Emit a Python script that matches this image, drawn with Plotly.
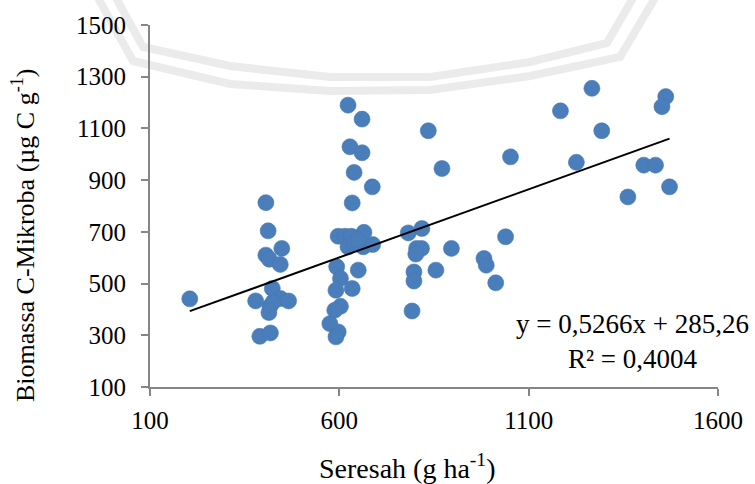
import plotly.graph_objects as go

# Seresah (litter) vs. microbial biomass carbon observations
seresah = [205, 406, 412, 448, 406, 415, 444, 423, 379, 417, 414, 445, 466, 425, 390, 418,
           623, 660, 628, 660, 639, 687, 634, 597, 615, 632, 665, 623, 640, 663, 688, 650,
           593, 650, 603, 634, 591, 603, 588, 575, 597, 591,
           835, 871, 782, 818, 804, 817, 802, 896, 797, 797, 855, 792,
           1052, 1039, 982, 988, 1013,
           1267, 1184, 1462, 1452, 1293, 1226, 1404, 1435, 1472, 1362]
biomassa = [441, 813, 704, 636, 610, 594, 574, 481, 433, 412, 388, 442, 433, 428, 296, 309,
            1190, 1136, 1029, 1006, 930, 874, 812, 683, 683, 683, 698, 642, 660, 642, 651, 668,
            565, 552, 520, 481, 474, 412, 397, 345, 313, 294,
            1091, 945, 696, 713, 636, 636, 614, 636, 545, 510, 552, 394,
            990, 681, 597, 571, 503,
            1255, 1168, 1223, 1184, 1091, 969, 958, 958, 874, 835]

# Linear trendline coefficients
slope = 0.5266
intercept = 285.26
r_squared = 0.4004

x_ticks = [100, 600, 1100, 1600]
y_ticks = [100, 300, 500, 700, 900, 1100, 1300, 1500]

FONT = "Liberation Serif, Times New Roman, serif"
AXIS_GREY = "#868686"
W, H = 755, 484
ML, MR, MT, MB = 150, 37, 25, 97
PW, PH = W - ML - MR, H - MT - MB


def to_paper(px, py):
    """Convert figure pixel position to paper coordinates."""
    return (px - ML) / PW, (H - MB - py) / PH


def path_from(points):
    pts = [to_paper(x, y) for x, y in points]
    return "M " + " L ".join(f"{x:.4f},{y:.4f}" for x, y in pts)


x_line = [min(seresah), max(seresah)]
y_line = [slope * v + intercept for v in x_line]

fig = go.Figure()
fig.add_trace(go.Scatter(
    x=seresah, y=biomassa, mode="markers",
    marker=dict(size=16, color="#4a7ebb", line=dict(width=0.6, color="#4577b2")),
    showlegend=False, hoverinfo="x+y",
))
fig.add_trace(go.Scatter(
    x=x_line, y=y_line, mode="lines",
    line=dict(color="black", width=2),
    showlegend=False, hoverinfo="skip",
))

# faint double-lined logo outline behind the plot
logo_outer = [(116, -2), (143, 47), (230, 66), (330, 77), (430, 77),
              (530, 62), (607, 43), (633, -2)]
logo_inner = [(98, -2), (133, 61), (230, 84), (330, 91), (430, 90),
              (530, 76), (620, 57), (655, -2)]
shapes = [
    dict(type="path", path=path_from(pts), xref="paper", yref="paper",
         line=dict(color="#ebebeb", width=8), layer="below")
    for pts in (logo_outer, logo_inner)
]

ax_common = dict(
    showline=True, linecolor=AXIS_GREY, linewidth=2, mirror=False,
    ticks="outside", tickcolor=AXIS_GREY, tickwidth=2, ticklen=7,
    showgrid=False, zeroline=False,
    tickfont=dict(family=FONT, size=25, color="black"),
)

fx, fy = to_paper(407, 466)
yx, yy = to_paper(23, 236)
ex, ey = to_paper(632, 341)

fig.update_layout(
    width=W, height=H, autosize=False,
    margin=dict(l=ML, r=MR, t=MT, b=MB, pad=0),
    paper_bgcolor="white", plot_bgcolor="white",
    xaxis=dict(range=[100, 1600], tickvals=x_ticks, ticktext=[str(v) for v in x_ticks],
               ticklabelstandoff=3, **ax_common),
    yaxis=dict(range=[100, 1500], tickvals=y_ticks, ticktext=[str(v) for v in y_ticks],
               ticklabelstandoff=10, **ax_common),
    shapes=shapes,
    annotations=[
        dict(text="Seresah (g ha<sup>-1</sup>)", x=fx, y=fy, xref="paper", yref="paper",
             showarrow=False, xanchor="center", yanchor="middle",
             font=dict(family=FONT, size=28, color="black")),
        dict(text="Biomassa C-Mikroba (µg C g<sup>-1</sup>)", x=yx, y=yy, xref="paper", yref="paper",
             showarrow=False, xanchor="center", yanchor="middle", textangle=-90,
             font=dict(family=FONT, size=26, color="black")),
        dict(text=f"y = {str(slope).replace('.', ',')}x + {str(intercept).replace('.', ',')}<br>"
                  f"R² = {str(r_squared).replace('.', ',')}",
             x=ex, y=ey, xref="paper", yref="paper", showarrow=False,
             xanchor="center", yanchor="middle", align="center",
             font=dict(family=FONT, size=27, color="black")),
    ],
)

fig.write_html("out.html")
